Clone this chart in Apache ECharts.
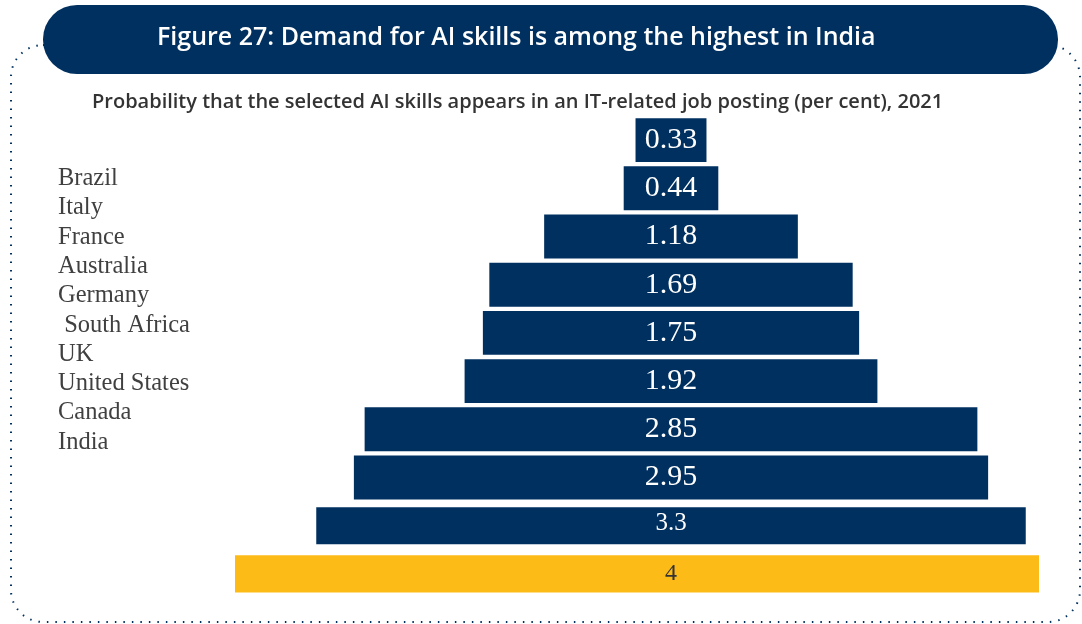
<!DOCTYPE html>
<html>
<head>
<meta charset="utf-8">
<script src="https://cdn.jsdelivr.net/npm/echarts@6/dist/echarts.min.js"></script>
<style>
  html, body { margin: 0; padding: 0; background: #fff; }
  #chart { width: 1082px; height: 624px; }
</style>
</head>
<body>
<div id="chart"></div>
<script>
// data
const countries = ['Brazil', 'Italy', 'France', 'Australia', 'Germany', ' South Africa', 'UK', 'United States', 'Canada', 'India'];
const values = [0.33, 0.44, 1.18, 1.69, 1.75, 1.92, 2.85, 2.95, 3.3, 4];
const highlight = 'India';

const navy = '#00305f';
const yellow = '#fdbb18';

var myChart = echarts.init(document.getElementById('chart'));

// centre of the pyramid and pixels per unit (navy bars / yellow bar)
const W = 1082;
const navyCenter = 671, navyK = 215;
const yellowCenter = 637, yellowK = 201;

const hiIdx = countries.indexOf(highlight);
const navyData = [];
const yellowData = [];
values.forEach((v, i) => {
  if (i === hiIdx) yellowData.push([v, i]);
  else navyData.push([v, i]);
});

function renderBar(params, api) {
  const v = api.value(0);
  const idx = api.value(1);
  const left = api.coord([-v / 2, idx]);
  const right = api.coord([v / 2, idx]);
  const band = api.size([0, 1])[1];
  const h = band * (idx >= 8 ? 0.77 : 0.91);
  const isHi = params.seriesIndex === 1;
  // the highlighted bar's label sits on the navy centre line
  const dx = isHi ? navyCenter - yellowCenter : 0;
  return {
    type: 'rect',
    shape: { x: left[0], y: left[1] - h / 2, width: right[0] - left[0], height: h },
    style: { fill: isHi ? yellow : navy },
    textContent: {
      style: {
        text: String(v),
        fill: isHi ? '#333' : '#fff',
        fontFamily: 'Liberation Serif',
        fontSize: idx === 8 ? 25 : (isHi ? 24 : 30)
      }
    },
    textConfig: { position: 'inside', offset: [dx, idx === 8 ? -2 : 0] }
  };
}

myChart.setOption({
  animation: false,
  title: [
    {
      text: 'Figure 27: Demand for AI skills is among the highest in India',
      left: 152, top: 20,
      textStyle: { color: '#fff', fontFamily: 'Open Sans', fontWeight: 600, fontSize: 25 }
    },
    {
      text: 'Probability that the selected AI skills appears in an IT-related job posting (per cent), 2021',
      left: 87, top: 87,
      textStyle: { color: '#333', fontFamily: 'Open Sans', fontWeight: 600, fontSize: 20 }
    }
  ],
  graphic: [
    {
      type: 'rect', z: 0,
      shape: { x: 11, y: 45, width: 1069, height: 577, r: 32 },
      style: { fill: 'none', stroke: navy, lineWidth: 2, lineDash: [1.5, 7] }
    },
    {
      type: 'rect', z: 1,
      shape: { x: 43, y: 5, width: 1015, height: 69, r: 34 },
      style: { fill: navy }
    },
    {
      type: 'text', left: 58, top: 164,
      style: {
        text: countries.join('\n'),
        fill: '#404040',
        font: '24.5px "Liberation Serif"',
        lineHeight: 29.3
      }
    }
  ],
  grid: { left: 0, right: 0, top: 116, bottom: 26 },
  xAxis: [
    { type: 'value', show: false, min: -navyCenter / navyK, max: (W - navyCenter) / navyK },
    { type: 'value', show: false, position: 'top', min: -yellowCenter / yellowK, max: (W - yellowCenter) / yellowK }
  ],
  yAxis: {
    type: 'category',
    data: countries,
    inverse: true,
    show: false
  },
  series: [
    { type: 'custom', xAxisIndex: 0, renderItem: renderBar, data: navyData, encode: { x: 0, y: 1 } },
    { type: 'custom', xAxisIndex: 1, renderItem: renderBar, data: yellowData, encode: { x: 0, y: 1 } }
  ]
});
</script>
</body>
</html>
